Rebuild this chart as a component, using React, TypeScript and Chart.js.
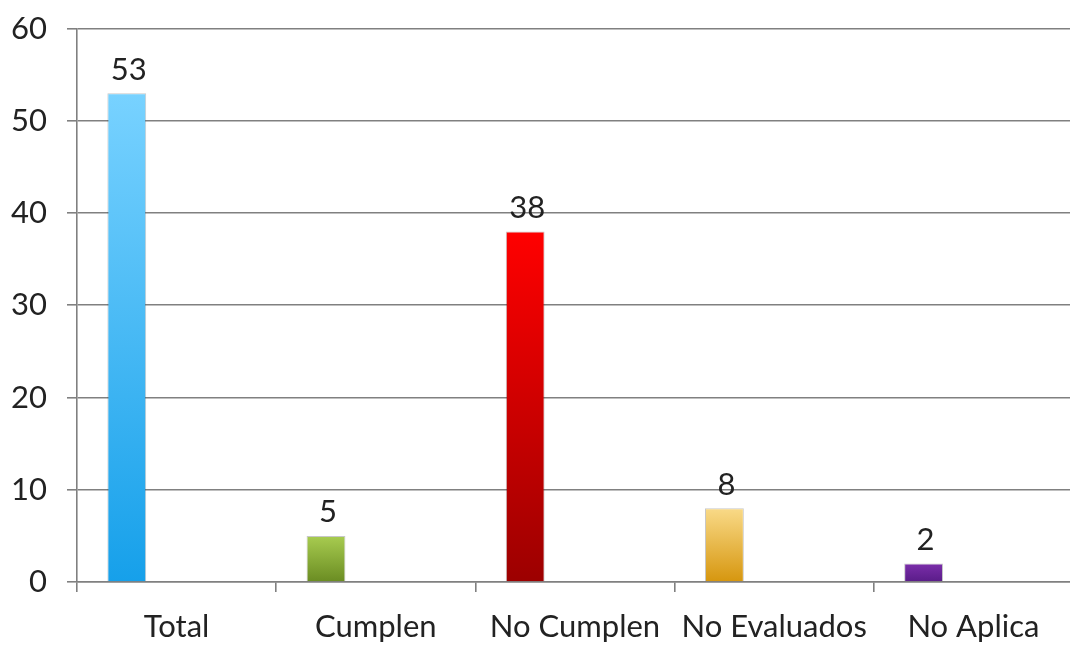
import React, { useEffect, useRef } from "react";
import { Chart, registerables } from "chart.js";

Chart.register(...registerables);

const categories = ["Total", "Cumplen", "No Cumplen", "No Evaluados", "No Aplica"];
const values = [53, 5, 38, 8, 2];
const emptySlot = [null, null, null, null, null];
const topColors = ["#78D2FF", "#A8CC50", "#FF0000", "#F9DA88", "#7B2EAA"];
const bottomColors = ["#16A0EA", "#6A8C22", "#9C0000", "#D6960E", "#591C88"];
const yMin = 0;
const yMax = 60;
const yStep = 10;

const FONT = "Lato, 'Open Sans', sans-serif";

const valueLabels = {
  id: "valueLabels",
  afterDatasetsDraw(chart: any) {
    const ctx = chart.ctx;
    const meta = chart.getDatasetMeta(0);
    ctx.save();
    ctx.font = `31px ${FONT}`;
    ctx.fillStyle = "#222";
    ctx.textAlign = "center";
    ctx.textBaseline = "bottom";
    meta.data.forEach((bar: any, i: number) => {
      ctx.fillText(String(values[i]), bar.x + 2, bar.y - 8);
    });
    ctx.restore();
  },
};

export default function App() {
  const ref = useRef<HTMLCanvasElement | null>(null);
  useEffect(() => {
    if (!ref.current) return;
    const chart = new Chart(ref.current, {
      type: "bar",
      data: {
        labels: categories,
        datasets: [
          {
            data: values,
            backgroundColor: (c: any) => {
              const i = c.dataIndex ?? 0;
              const ch = c.chart;
              if (!ch.chartArea || !ch.scales.y) return topColors[i];
              const y = ch.scales.y;
              const t = y.getPixelForValue(values[i]);
              const b = y.getPixelForValue(0);
              const g = ch.ctx.createLinearGradient(0, t, 0, b);
              g.addColorStop(0, topColors[i]);
              g.addColorStop(1, bottomColors[i]);
              return g;
            },
            borderColor: "rgba(0,0,0,0.22)",
            borderWidth: 1,
            categoryPercentage: 1,
            barPercentage: 0.39,
          },
          {
            data: emptySlot,
            backgroundColor: "transparent",
            categoryPercentage: 1,
            barPercentage: 0.39,
          },
        ],
      },
      options: {
        animation: false,
        responsive: true,
        maintainAspectRatio: false,
        layout: { padding: { top: 14, left: 8, right: 0, bottom: 0 } },
        plugins: {
          legend: { display: false },
          tooltip: { enabled: false },
          title: { display: false },
        },
        scales: {
          x: {
            offset: true,
            grid: {
              display: true,
              offset: true,
              drawOnChartArea: false,
              drawTicks: true,
              tickLength: 10,
              color: "#808080",
              lineWidth: 1.6,
            },
            border: { display: true, color: "#808080", width: 1.6 },
            ticks: {
              color: "#222",
              font: { family: FONT, size: 31 },
              padding: 16,
              maxRotation: 0,
              autoSkip: false,
            },
            afterFit: (s: any) => {
              s.height = 66;
            },
          },
          y: {
            min: yMin,
            max: yMax,
            ticks: {
              stepSize: yStep,
              color: "#222",
              font: { family: FONT, size: 31 },
              padding: 20,
            },
            grid: {
              color: "#808080",
              lineWidth: 1.6,
              tickLength: 10,
            },
            border: { display: true, color: "#808080", width: 1.6 },
            afterFit: (s: any) => {
              s.width = 69;
            },
          },
        },
      },
      plugins: [valueLabels],
    });
    return () => chart.destroy();
  }, []);
  return (
    <div style={{ position: "fixed", left: 0, top: -10, width: 1073, height: 658, background: "#fff" }}>
      <canvas ref={ref} />
    </div>
  );
}
